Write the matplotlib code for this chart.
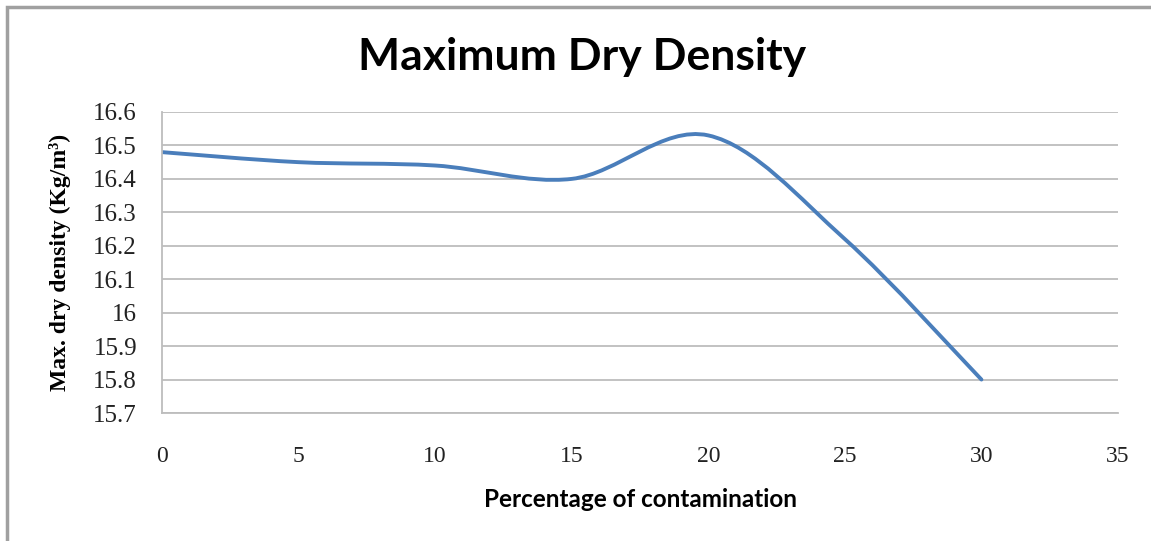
import numpy as np
import matplotlib
matplotlib.use('Agg')
import matplotlib.pyplot as plt
from matplotlib.path import Path
from matplotlib.patches import PathPatch, Rectangle

# Data
contamination = [0, 5, 10, 15, 20, 25, 30]
max_dry_density = [16.48, 16.45, 16.44, 16.40, 16.53, 16.22, 15.80]
x_ticks = [0, 5, 10, 15, 20, 25, 30, 35]
y_ticks = [15.7, 15.8, 15.9, 16.0, 16.1, 16.2, 16.3, 16.4, 16.5, 16.6]
y_tick_labels = ['15.7', '15.8', '15.9', '16', '16.1', '16.2', '16.3', '16.4', '16.5', '16.6']


def smooth_path(xs, ys):
    # Excel-style smoothed line: cubic Bezier segments through the points
    px = np.array(xs, float)
    py = np.array(ys, float)
    n = len(px)
    verts = [(px[0], py[0])]
    codes = [Path.MOVETO]
    for i in range(n - 1):
        i0 = max(i - 1, 0)
        i3 = min(i + 2, n - 1)
        c1 = (px[i] + (px[i + 1] - px[i0]) / 6, py[i] + (py[i + 1] - py[i0]) / 6)
        c2 = (px[i + 1] - (px[i3] - px[i]) / 6, py[i + 1] - (py[i3] - py[i]) / 6)
        verts += [c1, c2, (px[i + 1], py[i + 1])]
        codes += [Path.CURVE4] * 3
    return Path(verts, codes)


fig = plt.figure(figsize=(11.51, 5.41), dpi=100)
fig.patches.append(Rectangle((7 / 1151, -0.1), 1.2, 1.1 - 7 / 541, transform=fig.transFigure,
                             fill=False, edgecolor='#a0a0a0', linewidth=2.5))

ax = fig.add_axes([162 / 1151, 1 - 413 / 541, (1118 - 162) / 1151, (413 - 112) / 541])
ax.set_xlim(0, 35)
ax.set_ylim(15.7, 16.6)
ax.set_xticks(x_ticks)
ax.set_yticks(y_ticks)
ax.set_yticklabels(y_tick_labels)
ax.tick_params(length=0)
ax.tick_params(axis='x', pad=24)
ax.tick_params(axis='y', pad=18)
for lab in ax.get_xticklabels() + ax.get_yticklabels():
    lab.set_fontfamily('Liberation Serif')
    lab.set_fontsize(17)
    lab.set_color('#222222')
for lab in ax.get_yticklabels():
    lab.set_fontsize(18)

ax.grid(axis='y', color='#bdbdbd', linewidth=1.3)
ax.set_axisbelow(True)
for s in ['top', 'right']:
    ax.spines[s].set_visible(False)
for s in ['left', 'bottom']:
    ax.spines[s].set_color('#bdbdbd')
    ax.spines[s].set_linewidth(1.3)

ax.add_patch(PathPatch(smooth_path(contamination, max_dry_density), facecolor='none',
                       edgecolor='#4a7ebb', linewidth=2.8, capstyle='round', joinstyle='round'))

ax.set_ylabel('Max. dry density (Kg/m\u00b3)', fontfamily='Liberation Serif', fontweight='bold',
              fontsize=17, labelpad=16)
ax.set_xlabel('Percentage of contamination', fontfamily='Lato', fontweight='bold',
              fontsize=17.5, labelpad=15)
fig.text(582 / 1151, 1 - 57 / 541, 'Maximum Dry Density', fontfamily='Lato', fontweight='bold',
         fontsize=32, ha='center', va='center')

fig.savefig('out.png', dpi=100)
